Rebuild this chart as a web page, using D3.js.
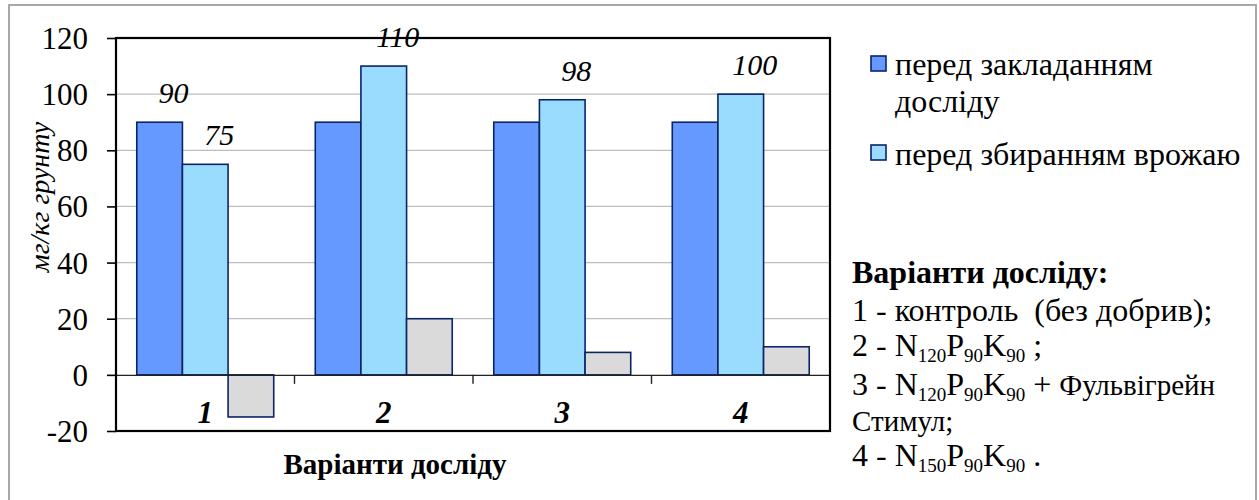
<!DOCTYPE html>
<html>
<head>
<meta charset="utf-8">
<script src="https://cdn.jsdelivr.net/npm/d3@7"></script>
<style>
  html, body { margin: 0; padding: 0; background: #fff; }
  svg { display: block; }
</style>
</head>
<body>
<svg id="chart" width="1259" height="500"></svg>
<script>
// Variants of the experiment (x categories)
const categories = ["1", "2", "3", "4"];

// Series values, mg/kg of soil
const beforeSetup   = [90, 90, 90, 90];
const beforeHarvest = [75, 110, 98, 100];
const difference    = [-15, 20, 8, 10];

const seriesNames = ["перед закладанням досліду", "перед збиранням врожаю", "різниця"];

// Which bars carry a value label
const labelShown = [
  [true, false, false, false],
  [true, true, true, true],
  [false, false, false, false]
];

const yTicks = [-20, 0, 20, 40, 60, 80, 100, 120];

const legendLines = [
  ["перед закладанням", "досліду"],
  ["перед збиранням врожаю"]
];

// Right-hand note: each line is a list of [text, kind] where kind is
// "n" (normal), "s" (subscript) or "m" (the slightly smaller product name)
const noteTitle = "Варіанти досліду:";
const noteLines = [
  [["1 - контроль\u00a0\u00a0(без добрив);", "n"]],
  [["2 - N", "n"], ["120", "s"], ["P", "n"], ["90", "s"], ["K", "n"], ["90", "s"], [" ;", "n"]],
  [["3 - N", "n"], ["120", "s"], ["P", "n"], ["90", "s"], ["K", "n"], ["90", "s"], [" + ", "n"], ["Фульвігрейн", "m"]],
  [["Стимул;", "m"]],
  [["4 - N", "n"], ["150", "s"], ["P", "n"], ["90", "s"], ["K", "n"], ["90", "s"], [" .", "n"]]
];

const seriesValues = [beforeSetup, beforeHarvest, difference];
const colors = ["#6699ff", "#99dcfd", "#dadada"];
const barStroke = "#0b2466";
const SERIF = '"Liberation Serif"';

const svg = d3.select("#chart");

// outer frame
svg.append("rect")
  .attr("x", 9).attr("y", 5).attr("width", 1247).attr("height", 510)
  .attr("fill", "#fff").attr("stroke", "#a8a8a8").attr("stroke-width", 2);

const plot = { left: 116, right: 830, top: 38, bottom: 431 };

const y = d3.scaleLinear().domain([-20, 120]).range([plot.bottom, plot.top]);
const x = d3.scaleBand().domain(categories).range([plot.left, plot.right]).padding(0);
const bw = x.bandwidth();
const gap = bw * 0.91 / 3.91;
const xs = d3.scaleBand().domain(d3.range(seriesValues.length))
  .range([gap / 2, bw - gap / 2]).padding(0);

// gridlines
svg.append("g")
  .selectAll("line")
  .data(yTicks.filter(t => t !== 0 && t !== -20 && t !== 120))
  .join("line")
  .attr("x1", plot.left).attr("x2", plot.right)
  .attr("y1", d => y(d)).attr("y2", d => y(d))
  .attr("stroke", "#bdbdbd").attr("stroke-width", 1.2);

// bars
const rows = [];
seriesValues.forEach((vals, s) => vals.forEach((v, i) => rows.push({ s, i, v })));

svg.append("g")
  .selectAll("rect")
  .data(rows)
  .join("rect")
  .attr("x", d => x(categories[d.i]) + xs(d.s))
  .attr("width", xs.bandwidth())
  .attr("y", d => y(Math.max(0, d.v)))
  .attr("height", d => Math.abs(y(d.v) - y(0)))
  .attr("fill", d => colors[d.s])
  .attr("stroke", barStroke)
  .attr("stroke-width", 1.6);

// zero line (category axis)
const xAxis = d3.axisBottom(x).tickSize(0).tickFormat("");
svg.append("g")
  .attr("transform", `translate(0,${y(0)})`)
  .call(xAxis)
  .call(g => g.select(".domain").attr("stroke", "#222").attr("stroke-width", 1.4));

// category boundary ticks
svg.append("g")
  .selectAll("line")
  .data(categories.slice(1))
  .join("line")
  .attr("x1", d => x(d)).attr("x2", d => x(d))
  .attr("y1", y(0)).attr("y2", y(0) + 9)
  .attr("stroke", "#222").attr("stroke-width", 1.4);

// category labels
svg.append("g")
  .selectAll("text")
  .data(categories)
  .join("text")
  .attr("x", d => x(d) + bw / 2)
  .attr("y", 423)
  .attr("text-anchor", "middle")
  .attr("font-size", 31).attr("font-weight", "bold").attr("font-style", "italic")
  .text(d => d);

// plot border
svg.append("rect")
  .attr("x", plot.left).attr("y", plot.top)
  .attr("width", plot.right - plot.left).attr("height", plot.bottom - plot.top)
  .attr("fill", "none").attr("stroke", "#000").attr("stroke-width", 2.2);

// value axis
const yAxis = d3.axisLeft(y).tickValues(yTicks).tickSize(9).tickPadding(19)
  .tickFormat(d => String(d));
svg.append("g")
  .attr("transform", `translate(${plot.left},0)`)
  .call(yAxis)
  .attr("font-family", null)
  .call(g => g.select(".domain").remove())
  .call(g => g.selectAll(".tick line").attr("stroke", "#000").attr("stroke-width", 1.6))
  .call(g => g.selectAll(".tick text")
    .attr("font-size", 31).attr("fill", "#000").attr("dy", "0.34em"));

// value labels
svg.append("g")
  .selectAll("text")
  .data(rows.filter(d => labelShown[d.s][d.i]))
  .join("text")
  .attr("x", d => x(categories[d.i]) + xs(d.s) + xs.bandwidth() / 2 + 14)
  .attr("y", d => y(d.v) - 19)
  .attr("text-anchor", "middle")
  .attr("font-size", 30).attr("font-style", "italic")
  .text(d => d.v);

// axis titles
svg.append("text")
  .attr("transform", `translate(49,197) rotate(-90)`)
  .attr("text-anchor", "middle")
  .attr("font-size", 28).attr("font-style", "italic")
  .text("мг/кг грунту");

svg.append("text")
  .attr("x", 395).attr("y", 474)
  .attr("text-anchor", "middle")
  .attr("font-size", 29).attr("font-weight", "bold")
  .text("Варіанти досліду");

// legend
const legend = svg.append("g");
const legendY = [63.5, 152.5];
const legendBase = [75, 165];
legendLines.forEach((lines, k) => {
  legend.append("rect")
    .attr("x", 871).attr("y", legendY[k] - 7.5)
    .attr("width", 15).attr("height", 15)
    .attr("fill", colors[k]).attr("stroke", barStroke).attr("stroke-width", 1.6);
  const t = legend.append("text")
    .attr("x", 895).attr("y", legendBase[k])
    .attr("font-size", 32);
  lines.forEach((ln, j) => {
    t.append("tspan").attr("x", 895).attr("dy", j === 0 ? 0 : 37).text(ln);
  });
});

// note block
const note = svg.append("g");
note.append("text")
  .attr("x", 852).attr("y", 283)
  .attr("font-size", 32).attr("font-weight", "bold")
  .text(noteTitle);
const noteY = [321, 356, 395, 431, 466];
const kindSize = { n: 32, s: 19, m: 29 };
noteLines.forEach((segs, k) => {
  const t = note.append("text").attr("x", 852).attr("y", noteY[k]).attr("font-size", 32);
  segs.forEach(([txt, kind]) => {
    t.append("tspan")
      .attr("font-size", kindSize[kind])
      .attr("baseline-shift", kind === "s" ? "-6" : null)
      .text(txt);
  });
});

// serif face on every label
svg.selectAll("text").style("font-family", SERIF);
</script>
</body>
</html>
